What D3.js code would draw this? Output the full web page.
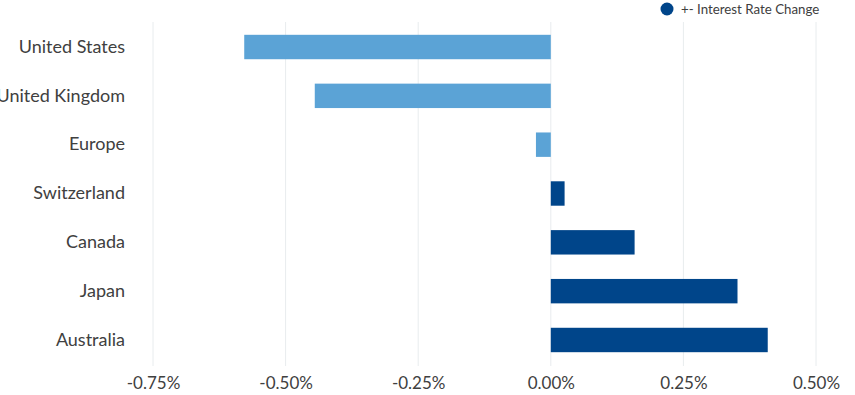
<!DOCTYPE html>
<html>
<head>
<meta charset="utf-8">
<script src="https://cdn.jsdelivr.net/npm/d3@7"></script>
<style>
  body { margin: 0; background: #fff; }
  text { font-family: Lato, "Open Sans", sans-serif; }
</style>
</head>
<body>
<svg id="chart" width="855" height="395"></svg>
<script>
const countries = ["United States", "United Kingdom", "Europe", "Switzerland", "Canada", "Japan", "Australia"];
const rateChange = [-0.578, -0.445, -0.028, 0.026, 0.158, 0.352, 0.409];
const tickValues = [-0.75, -0.5, -0.25, 0, 0.25, 0.5];
const legendLabel = "+- Interest Rate Change";

const svg = d3.select("#chart");
const margin = { top: 22.6, right: 39, bottom: 30, left: 153 };
const width = +svg.attr("width");

const x = d3.scaleLinear().domain([-0.75, 0.5]).range([margin.left, width - margin.right]);
const y = d3.scaleBand().domain(countries).range([margin.top, 364.4])
  .paddingInner(0.5).paddingOuter(0.25);

const data = countries.map((c, i) => ({ name: c, value: rateChange[i] }));

// gridlines
svg.append("g")
  .selectAll("line")
  .data(tickValues)
  .join("line")
  .attr("x1", d => x(d)).attr("x2", d => x(d))
  .attr("y1", 22).attr("y2", 366)
  .attr("stroke", "#e8ecee")
  .attr("stroke-width", 1);

// bars
svg.append("g")
  .selectAll("rect")
  .data(data)
  .join("rect")
  .attr("x", d => x(Math.min(0, d.value)))
  .attr("y", d => y(d.name))
  .attr("width", d => Math.abs(x(d.value) - x(0)))
  .attr("height", y.bandwidth())
  .attr("fill", d => d.value < 0 ? "#5ba3d6" : "#00458a");

// x axis (plain hyphen for negatives, like the original)
const xAxis = svg.append("g")
  .attr("transform", "translate(0,370)")
  .call(d3.axisBottom(x).tickValues(tickValues).tickSize(0).tickPadding(7)
    .tickFormat(d => (d < 0 ? "-" : "") + Math.abs(d).toFixed(2) + "%"));
xAxis.select(".domain").remove();
xAxis.selectAll("text").attr("font-size", 17).attr("fill", "#404040")
  .style("font-family", "Lato, sans-serif");

// y axis
const yAxis = svg.append("g")
  .attr("transform", "translate(125,0)")
  .call(d3.axisLeft(y).tickSize(0).tickPadding(0));
yAxis.select(".domain").remove();
yAxis.selectAll("text").attr("font-size", 18).attr("fill", "#404040")
  .style("font-family", "Lato, sans-serif");

// legend
const legend = svg.append("g").attr("transform", "translate(667,9)");
legend.append("circle").attr("r", 6.5).attr("fill", "#00458a");
legend.append("text")
  .attr("x", 14).attr("y", 5)
  .attr("font-size", 13.3).attr("fill", "#404040")
  .text(legendLabel);
</script>
</body>
</html>
